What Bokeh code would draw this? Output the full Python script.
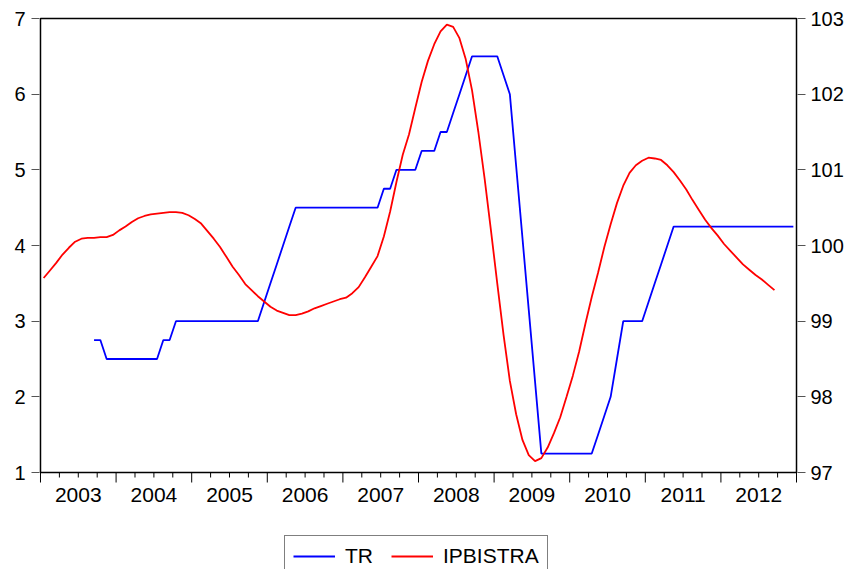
import math
import pandas as pd
from bokeh.plotting import figure
from bokeh.models import Range1d, LinearAxis, FixedTicker, Legend, LegendItem
from bokeh.core.properties import value
from bokeh.embed import file_html
from bokeh.resources import INLINE

# ---------------- data ----------------
start_month = "2003-01"
n_months = 120
year_labels = ["2003", "2004", "2005", "2006", "2007", "2008", "2009", "2010", "2011", "2012"]
left_ticks = [1, 2, 3, 4, 5, 6, 7]
right_ticks = [97, 98, 99, 100, 101, 102, 103]

tr = [
    None, None, None, None, None, None, None, None, 2.75, 2.75, 2.5, 2.5,        # 2003
    2.5, 2.5, 2.5, 2.5, 2.5, 2.5, 2.5, 2.75, 2.75, 3.0, 3.0, 3.0,                # 2004
    3.0, 3.0, 3.0, 3.0, 3.0, 3.0, 3.0, 3.0, 3.0, 3.0, 3.0, 3.25,                 # 2005
    3.5, 3.75, 4.0, 4.25, 4.5, 4.5, 4.5, 4.5, 4.5, 4.5, 4.5, 4.5,                # 2006
    4.5, 4.5, 4.5, 4.5, 4.5, 4.5, 4.75, 4.75, 5.0, 5.0, 5.0, 5.0,                # 2007
    5.25, 5.25, 5.25, 5.5, 5.5, 5.75, 6.0, 6.25, 6.5, 6.5, 6.5, 6.5,             # 2008
    6.5, 6.25, 6.0, 5.05, 4.1, 3.15, 2.2, 1.25, 1.25, 1.25, 1.25, 1.25,          # 2009
    1.25, 1.25, 1.25, 1.25, 1.5, 1.75, 2.0, 2.5, 3.0, 3.0, 3.0, 3.0,             # 2010
    3.25, 3.5, 3.75, 4.0, 4.25, 4.25, 4.25, 4.25, 4.25, 4.25, 4.25, 4.25,        # 2011
    4.25, 4.25, 4.25, 4.25, 4.25, 4.25, 4.25, 4.25, 4.25, 4.25, 4.25, 4.25,      # 2012
]

ipbistra = [
    99.57, 99.67, 99.77, 99.88, 99.97, 100.05, 100.09, 100.10, 100.10, 100.11, 100.11, 100.14,   # 2003
    100.20, 100.25, 100.31, 100.36, 100.39, 100.41, 100.42, 100.43, 100.44, 100.44, 100.43, 100.40,  # 2004
    100.35, 100.29, 100.19, 100.09, 99.98, 99.85, 99.72, 99.61, 99.49, 99.41, 99.33, 99.26,      # 2005
    99.19, 99.14, 99.11, 99.08, 99.08, 99.10, 99.13, 99.17, 99.20, 99.23, 99.26, 99.29,          # 2006
    99.31, 99.37, 99.45, 99.58, 99.72, 99.86, 100.12, 100.45, 100.84, 101.20, 101.47, 101.82,    # 2007
    102.16, 102.44, 102.66, 102.83, 102.92, 102.89, 102.74, 102.46, 102.05, 101.50, 100.88, 100.20,  # 2008
    99.50, 98.82, 98.21, 97.77, 97.43, 97.23, 97.15, 97.19, 97.33, 97.52, 97.73, 98.00,          # 2009
    98.28, 98.60, 98.97, 99.32, 99.64, 99.98, 100.28, 100.56, 100.79, 100.96, 101.06, 101.12,    # 2010
    101.16, 101.15, 101.13, 101.06, 100.97, 100.86, 100.74, 100.60, 100.47, 100.34, 100.23, 100.13,  # 2011
    100.02, 99.93, 99.84, 99.75, 99.68, 99.61, 99.55, 99.48, 99.41, None, None, None,            # 2012
]

# ---------------- layout constants (pixels) ----------------
W, H = 846, 569
BOX_L, BOX_R, BOX_T, BOX_B = 40, 798, 18, 472   # visible plot box on the page
PAD = 3                                          # frame padding so the box lines are not clipped
FONT = "Liberation Sans"

# ---------------- build ----------------
months = pd.date_range(start_month, periods=n_months, freq="MS")
x = [d.year + (d.month - 0.5) / 12 for d in months]
tr_vals = [float("nan") if v is None else v for v in tr]
ip_vals = [float("nan") if v is None else v for v in ipbistra]

boundaries = [int(y) for y in year_labels] + [int(year_labels[-1]) + 1]
quarters = [b + q / 4 for b in boundaries[:-1] for q in range(1, 4)]
centers = [b + 0.5 for b in boundaries[:-1]]

x0, x1 = boundaries[0], boundaries[-1]
y0, y1 = left_ticks[0], left_ticks[-1]
r0, r1 = right_ticks[0], right_ticks[-1]
ppx = (BOX_R - BOX_L) / (x1 - x0)     # pixels per year
ppy = (BOX_B - BOX_T) / (y1 - y0)     # pixels per unit (both y axes)

frame_top = BOX_T - PAD
frame_bottom = H                      # frame reaches the canvas bottom (legend lives there)
below = (frame_bottom - BOX_B) / ppy

p = figure(width=W, height=H, output_backend="svg", toolbar_location=None,
           x_range=Range1d(x0 - PAD / ppx, x1 + PAD / ppx),
           y_range=Range1d(y0 - below, y1 + PAD / ppy),
           x_axis_type=None, y_axis_type=None,
           min_border_left=BOX_L - PAD, min_border_right=W - BOX_R - PAD,
           min_border_top=frame_top, min_border_bottom=0)
p.extra_y_ranges = {"right": Range1d(r0 - below, r1 + PAD / ppy)}
p.outline_line_color = None
p.background_fill_color = "white"
p.border_fill_color = "white"

# left axis: ticks/labels only (box drawn separately)
ly = LinearAxis(ticker=FixedTicker(ticks=left_ticks, minor_ticks=[]))
ly.axis_line_color = None
ly.major_tick_out = 6
ly.major_tick_in = 2
ly.major_tick_line_color = "#555555"
ly.major_label_standoff = 6
ly.major_label_text_font = FONT
ly.major_label_text_font_size = "20px"
ly.major_label_text_color = "black"
p.add_layout(ly, "left")

ry = LinearAxis(y_range_name="right", ticker=FixedTicker(ticks=right_ticks, minor_ticks=[]))
ry.axis_line_color = None
ry.major_tick_out = 6
ry.major_tick_in = 2
ry.major_tick_line_color = "#555555"
ry.major_label_standoff = 5
ry.major_label_text_font = FONT
ry.major_label_text_font_size = "20px"
ry.major_label_text_color = "black"
p.add_layout(ry, "right")

# plot box
p.quad(left=[x0], right=[x1], bottom=[y0], top=[y1],
       fill_color=None, line_color="black", line_width=1.5)

# bottom axis ticks: years (long) and quarters (short)
p.segment(x0=boundaries, y0=[y0] * len(boundaries),
          x1=boundaries, y1=[y0 - 10 / ppy] * len(boundaries),
          line_color="black", line_width=1)
p.segment(x0=quarters, y0=[y0] * len(quarters),
          x1=quarters, y1=[y0 - 5 / ppy] * len(quarters),
          line_color="black", line_width=1)
p.text(x=centers, y=[y0 - 22.5 / ppy] * len(centers), text=year_labels,
       text_align="center", text_baseline="middle",
       text_font=value(FONT), text_font_size="21px", text_color="black")

r_tr = p.line(x, tr_vals, line_color="#0000FF", line_width=1.8)
r_ip = p.line(x, ip_vals, line_color="#FF0000", line_width=1.8, y_range_name="right")

legend = Legend(items=[LegendItem(label="TR", renderers=[r_tr]),
                       LegendItem(label="IPBISTRA", renderers=[r_ip])],
                orientation="horizontal",
                location=(284 - (BOX_L - PAD), -8))
legend.border_line_color = "black"
legend.border_line_width = 1
legend.background_fill_color = "white"
legend.background_fill_alpha = 1
legend.padding = 8
legend.spacing = 18
legend.margin = 0
legend.glyph_width = 42
legend.glyph_height = 24
legend.label_height = 24
legend.label_standoff = 10
legend.label_text_font = FONT
legend.label_text_font_size = "21px"
legend.label_text_color = "black"
p.add_layout(legend)

open("out.html", "w").write(file_html(p, INLINE))
